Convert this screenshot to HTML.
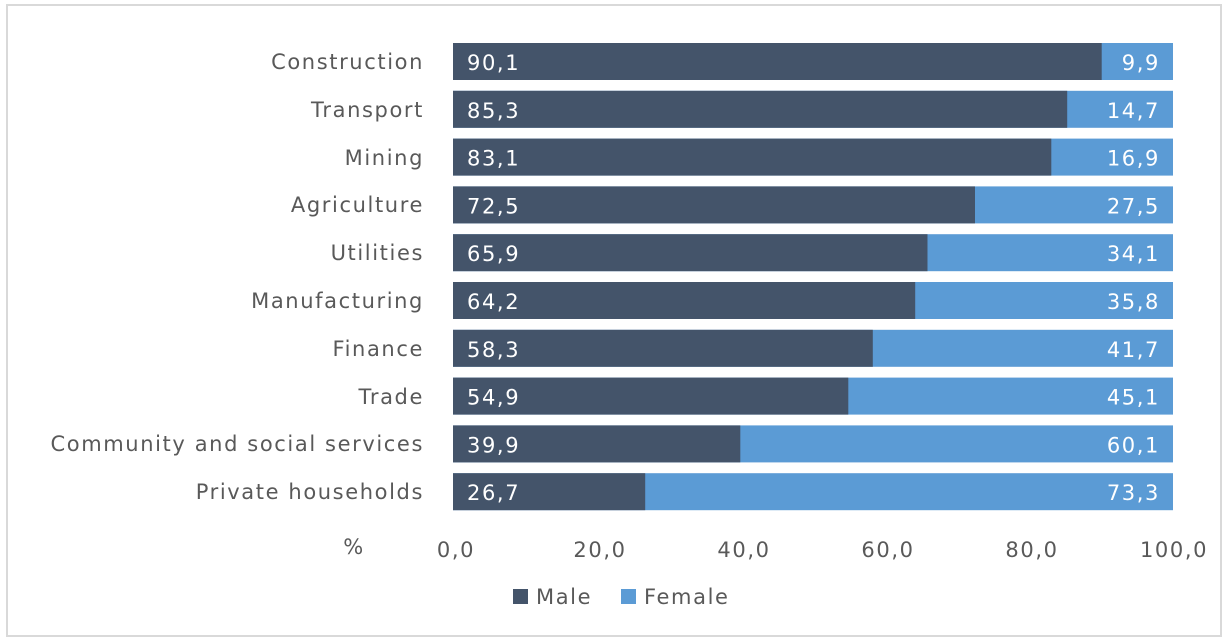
<!DOCTYPE html>
<html><head><style>
html,body{margin:0;padding:0;background:#fff;}
svg{display:block;font-family:"DejaVu Sans","Liberation Sans",sans-serif;}
text{letter-spacing:1.6px;}
</style></head><body>
<svg width="1228" height="639" viewBox="0 0 1228 639">
<rect x="7" y="5" width="1214" height="631" fill="#fff" stroke="#d9d9d9" stroke-width="2"/>
<g font-size="21" fill="#595959" text-anchor="end">
<text x="424" y="69">Construction</text>
<text x="424" y="117">Transport</text>
<text x="424" y="165">Mining</text>
<text x="424" y="212">Agriculture</text>
<text x="424" y="260">Utilities</text>
<text x="424" y="308">Manufacturing</text>
<text x="424" y="356">Finance</text>
<text x="424" y="404">Trade</text>
<text x="424" y="451">Community and social services</text>
<text x="424" y="499">Private households</text>
</g>
<g fill="#5b9bd5">
<rect x="453" y="43" width="720" height="37"/>
<rect x="453" y="90.8" width="720" height="37"/>
<rect x="453" y="138.6" width="720" height="37"/>
<rect x="453" y="186.4" width="720" height="37"/>
<rect x="453" y="234.2" width="720" height="37"/>
<rect x="453" y="282" width="720" height="37"/>
<rect x="453" y="329.8" width="720" height="37"/>
<rect x="453" y="377.6" width="720" height="37"/>
<rect x="453" y="425.4" width="720" height="37"/>
<rect x="453" y="473.2" width="720" height="37"/>
</g>
<g fill="#44546a">
<rect x="453" y="43" width="648.7" height="37"/>
<rect x="453" y="90.8" width="614.2" height="37"/>
<rect x="453" y="138.6" width="598.3" height="37"/>
<rect x="453" y="186.4" width="522" height="37"/>
<rect x="453" y="234.2" width="474.5" height="37"/>
<rect x="453" y="282" width="462.2" height="37"/>
<rect x="453" y="329.8" width="419.8" height="37"/>
<rect x="453" y="377.6" width="395.3" height="37"/>
<rect x="453" y="425.4" width="287.3" height="37"/>
<rect x="453" y="473.2" width="192.2" height="37"/>
</g>
<g font-size="21" fill="#fff">
<text x="467" y="70">90,1</text>
<text x="467" y="117.8">85,3</text>
<text x="467" y="165.6">83,1</text>
<text x="467" y="213.4">72,5</text>
<text x="467" y="261.2">65,9</text>
<text x="467" y="309">64,2</text>
<text x="467" y="356.8">58,3</text>
<text x="467" y="404.6">54,9</text>
<text x="467" y="452.4">39,9</text>
<text x="467" y="500.2">26,7</text>
</g>
<g font-size="21" fill="#fff" text-anchor="end">
<text x="1160" y="70">9,9</text>
<text x="1160" y="117.8">14,7</text>
<text x="1160" y="165.6">16,9</text>
<text x="1160" y="213.4">27,5</text>
<text x="1160" y="261.2">34,1</text>
<text x="1160" y="309">35,8</text>
<text x="1160" y="356.8">41,7</text>
<text x="1160" y="404.6">45,1</text>
<text x="1160" y="452.4">60,1</text>
<text x="1160" y="500.2">73,3</text>
</g>
<g font-size="21" fill="#595959" text-anchor="middle">
<text x="354" y="554">%</text>
<text x="456" y="557">0,0</text>
<text x="600" y="557">20,0</text>
<text x="744" y="557">40,0</text>
<text x="888" y="557">60,0</text>
<text x="1032" y="557">80,0</text>
<text x="1174" y="557">100,0</text>
</g>
<rect x="513" y="589" width="15" height="15" fill="#44546a"/>
<text x="536" y="604" font-size="21" fill="#595959">Male</text>
<rect x="621" y="589" width="15" height="15" fill="#5b9bd5"/>
<text x="644" y="604" font-size="21" fill="#595959">Female</text>
</svg>
</body></html>
